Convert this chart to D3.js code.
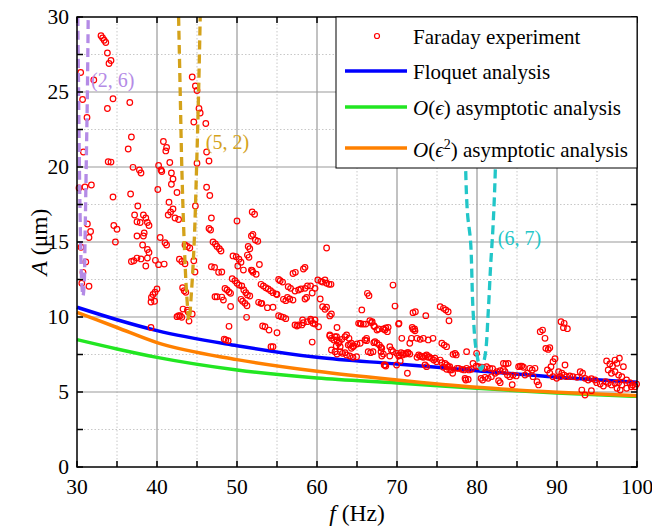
<!DOCTYPE html>
<html>
<head>
<meta charset="utf-8">
<script src="https://cdn.jsdelivr.net/npm/d3@7"></script>
<style>
  body { margin: 0; background: #fff; }
  svg { display: block; font-family: "Liberation Serif", "Times New Roman", serif; }
</style>
</head>
<body>
<svg id="chart" width="652" height="528"></svg>
<script>
// theory curves
var theoryF = [30, 35, 40, 50, 60, 70, 80, 90, 100];
var floquetA = [10.65, 9.82, 9.09, 8.09, 7.31, 6.87, 6.42, 5.98, 5.65];
var asym1A = [8.49, 7.87, 7.31, 6.47, 5.93, 5.6, 5.25, 4.93, 4.71];
var asym2A = [10.31, 9.3, 8.29, 7.16, 6.38, 5.8, 5.31, 4.98, 4.75];

// instability tongues (dashed)
var tongue26 = [[30.1,30],[30.2,25],[30.3,20],[30.45,15],[30.6,12.2],[30.75,11.4],[30.9,12.2],[31.0,15],[31.15,20],[31.3,25],[31.4,30]];
var tongue52 = [[42.7,30],[42.9,25],[43.1,20],[43.4,15],[43.7,11.6],[44.0,9.8],[44.3,11.6],[44.65,15],[44.95,20],[45.2,25],[45.4,30]];
var tongue67 = [[78.4,30],[78.5,22],[78.8,17],[79.2,15],[79.5,10.5],[79.9,7.8],[80.5,6.5],[81.0,7.4],[81.4,10.3],[81.7,13.4],[82.0,16],[82.3,20],[82.6,30]];
var tongueLabels = [["(2, 6)", 31.75, 25.33, "#b48be6"], ["(5, 2)", 46.1, 21.2, "#d4a21a"], ["(6, 7)", 82.6, 14.8, "#22c6c8"]];

// Faraday experiment points [f, A]
var faraday = [
[33.0,28.75],[33.2,28.6],[33.4,28.45],[33.6,28.3],[33.8,27.6],[34.0,26.9],[34.25,27.1],[30.46,26.3],[32.1,25.8],[30.7,24.5],[34.5,24.55],[33.8,23.9],[36.6,24.3],[31.25,23.3],[30.8,21.0],[36.4,21.2],[36.8,22.0],[33.9,20.35],[34.25,20.33],[37.0,19.98],[37.8,19.8],[38.0,19.6],[30.25,18.6],[31.0,18.67],[31.8,18.8],[34.5,18.0],[36.7,18.2],[40.2,20.1],[40.5,19.8],[40.6,19.7],[40.8,21.7],[41.2,21.3],[41.1,21.07],[41.6,20.3],[41.8,19.6],[42.0,19.2],[41.8,18.85],[42.5,18.3],[40.1,18.5],[41.5,17.65],[42.0,17.2],[41.7,17.0],[41.4,16.8],[42.25,16.6],[42.7,16.5],[37.6,17.4],[37.2,16.8],[38.3,16.8],[38.6,16.6],[37.5,16.35],[37.9,16.3],[38.8,16.3],[39.0,16.1],[34.6,16.1],[35.0,15.85],[31.3,16.2],[31.7,15.7],[31.5,15.3],[38.4,15.6],[38.3,15.4],[37.5,15.4],[34.8,15.0],[38.2,14.8],[38.8,14.5],[39.0,14.3],[40.4,15.3],[41.0,14.95],[41.2,14.8],[30.5,14.65],[44.8,17.4],[44.4,26.0],[44.8,25.4],[45.0,25.1],[45.25,23.9],[45.4,23.6],[44.6,23.0],[46.1,22.9],[46.2,21.0],[46.5,20.4],[45.0,20.25],[46.2,18.65],[46.6,18.1],[46.8,16.6],[46.5,15.9],[46.7,15.8],[47.0,15.0],[47.3,14.87],[47.5,14.7],[47.8,14.55],[48.0,14.4],[50.0,16.4],[51.9,17.0],[52.2,16.85],[51.8,15.4],[52.0,15.5],[52.3,15.13],[52.6,15.05],[51.4,14.7],[51.6,14.55],[49.5,14.07],[49.9,14.02],[61.2,14.6],[43.5,14.8],[43.8,14.7],[44.1,14.6],
[31.1,13.67],[30.75,12.98],[30.6,12.25],[31.5,12.05],[36.8,13.7],[37.1,13.75],[37.5,13.93],[38.0,13.87],[38.6,13.4],[38.8,13.93],[39.8,13.78],[40.2,13.49],[40.9,13.53],[42.8,13.85],[43.1,13.7],[43.5,13.55],[44.6,13.75],[44.75,13.0],[46.8,13.35],[47.2,13.31],[47.7,12.98],[48.1,13.0],[50.25,13.85],[50.5,13.65],[50.1,13.4],[51.3,14.13],[51.5,13.98],[50.8,13.13],[51.9,13.09],[49.4,12.55],[49.75,12.42],[50.0,12.25],[50.25,12.13],[40.0,11.87],[39.75,11.65],[39.5,11.5],[39.3,11.3],[39.25,11.0],[39.7,11.05],[43.2,11.95],[43.4,11.75],[43.6,11.65],[47.25,11.35],[47.5,11.35],[48.1,11.33],[48.3,11.13],[48.5,11.9],[48.75,11.8],[49.0,11.67],[49.2,11.58],[49.2,10.7],[50.6,12.07],[50.85,11.8],[51.1,11.62],[51.3,11.47],[50.5,11.18],[50.7,11.05],[51.0,10.91],[51.25,10.75],[51.6,11.4],[51.2,9.98],[49.0,9.38],[43.25,10.53],[42.5,10.02],[42.7,10.09],[42.9,10.09],[43.1,9.98],[43.8,10.45],[43.9,10.33],[44.4,10.2],[44.0,9.73],[39.25,9.3],[48.4,8.53],[48.6,8.47],[48.9,8.42],
[52.8,13.5],[51.8,13.13],[52.0,12.98],[52.4,12.85],[58.5,13.31],[58.3,13.2],[57.0,12.9],[57.3,12.98],[55.2,12.5],[55.4,12.42],[55.7,12.33],[60.1,12.47],[60.5,12.38],[60.7,12.33],[61.0,12.47],[61.2,12.25],[61.5,12.18],[53.0,12.18],[53.3,12.07],[53.6,11.95],[53.9,11.87],[54.2,11.75],[54.5,11.62],[54.9,11.53],[56.4,12.02],[56.7,11.91],[57.25,11.73],[57.7,11.8],[58.0,11.87],[58.5,11.91],[58.8,12.07],[59.2,12.07],[59.75,11.91],[52.7,10.98],[53.0,10.91],[53.1,10.91],[53.8,10.62],[54.5,10.65],[55.0,11.5],[55.8,11.18],[56.1,11.09],[56.3,11.31],[56.6,11.2],[57.0,11.13],[58.5,11.2],[58.7,11.3],[59.4,11.6],[60.4,11.2],[60.7,10.69],[61.0,10.51],[61.2,10.65],[55.2,10.09],[55.5,10.02],[55.8,9.98],[56.1,9.89],[58.2,9.8],[59.2,9.85],[59.75,9.8],[61.6,10.07],[61.8,10.2],[61.75,12.18],[62.5,9.3],
[57.25,9.47],[57.5,9.4],[57.7,9.47],[58.1,9.47],[58.3,9.62],[58.8,9.69],[59.25,9.75],[59.5,9.58],[59.75,9.53],[60.2,9.35],[53.2,9.4],[53.5,9.35],[54.0,9.13],[55.0,8.95],[54.25,8.02],[54.5,8.02],[59.4,8.33],[61.6,8.8],[62.25,8.69],[62.5,8.47],[62.7,8.25],[62.4,8.07],[62.9,8.02],[61.8,7.8],[62.25,7.69],[62.5,7.53],[62.9,7.69],[63.2,7.58],[63.5,7.62],[63.7,7.47],[64.1,7.4],[64.5,7.31],[64.95,7.35],[63.7,8.8],[64.0,8.58],[64.3,8.25],[64.5,8.02],[65.2,9.58],[65.4,9.58],[65.6,10.47],[66.3,11.58],[66.5,11.42],[66.1,9.53],[66.8,9.62],[67.1,9.42],[67.5,9.13],[66.2,8.58],[66.0,8.47],[66.4,7.69],[66.7,7.62],[67.0,7.69],[67.25,8.35],[67.5,8.25],[67.8,8.13],[68.0,7.98],[68.0,7.69],[68.3,7.53],[68.5,9.13],[68.8,9.02],[69.5,12.13],[69.75,10.73],[70.2,9.53],[70.6,8.58],[69.1,8.02],[69.3,7.8],[69.5,7.69],[69.95,7.58],[70.3,7.47],[70.8,7.58],[71.1,7.53],[71.4,7.62],[71.6,8.25],[71.8,8.58],[72.0,9.18],[72.25,9.08],[72.5,8.58],[72.9,8.51],[73.3,8.58],[73.9,8.47],[74.5,8.58],[72.0,10.29],[72.3,10.35],[73.6,10.09],[72.7,7.47],[73.1,7.35],[73.5,7.4],[73.9,7.31],[74.3,7.25],[74.6,7.13],[74.95,7.02],[75.4,10.69],[75.8,10.58],[76.1,10.47],[76.4,10.35],[75.6,8.25],[75.9,8.13],[76.2,8.02],[69.95,6.8],[68.5,6.8],
[76.5,9.75],[65.5,9.53],[65.8,9.53],[66.6,9.75],[66.9,9.69],[67.2,9.35],[67.7,9.2],[68.3,9.2],[68.6,9.27],[68.9,9.31],[70.25,9.58],[71.9,9.31],[72.2,9.2],[61.6,8.73],[61.8,8.58],[62.1,8.47],[62.45,8.69],[62.8,8.35],[63.1,8.51],[63.5,8.69],[63.9,8.13],[64.1,8.18],[64.3,7.91],[64.6,8.07],[65.0,8.2],[65.4,8.25],[66.2,8.42],[67.1,8.29],[68.1,7.91],[68.1,7.4],[69.1,7.4],[70.2,7.4],[70.5,7.62],[70.7,7.47],[71.3,7.62],[71.6,7.53],[70.4,7.07],[68.4,6.8],[68.6,6.73],[72.5,7.31],[72.9,7.4],[73.3,7.31],[73.7,7.47],[74.0,7.35],[74.75,7.25],[71.3,6.25],[73.5,6.8],[73.7,6.69],[76.0,6.91],[76.2,6.8],[76.6,6.69],[77.25,7.58],[77.4,7.47],[78.7,7.69],[76.8,6.47],[77.5,6.58],[78.5,5.91],
[77.0,7.51],[79.95,7.58],[79.5,6.91],[79.9,6.73],[80.2,6.69],[80.6,6.65],[80.9,6.58],[81.2,6.69],[81.6,6.58],[81.95,6.56],[75.4,7.13],[75.6,6.95],[75.8,6.65],[76.2,6.51],[76.4,6.69],[76.6,6.47],[76.96,6.25],[77.7,6.58],[78.1,6.51],[78.4,6.47],[78.7,6.58],[79.0,6.47],[79.3,6.51],[78.6,5.8],[78.9,5.84],[80.5,5.91],[80.7,5.8],[81.0,5.98],[81.4,5.91],[81.8,6.02],[82.25,6.25],[82.5,6.35],[82.9,6.42],[83.3,6.51],[83.5,6.35],[82.7,5.75],[82.9,5.62],[83.8,6.13],[84.1,6.02],[84.5,6.13],[84.9,6.07],[85.2,6.69],[85.4,6.73],[85.6,6.73],[85.8,6.65],[84.4,5.49],[86.0,6.13],[86.3,6.25],[86.6,6.58],[86.9,6.47],[87.25,6.58],[87.0,6.02],[87.5,5.69],[87.7,5.47],[87.9,9.02],[88.2,9.13],[88.5,8.58],[88.6,7.91],[88.9,7.84],[89.1,7.95],[89.75,7.22],[89.5,7.02],[89.25,6.69],[88.8,6.47],[89.1,6.25],[89.5,6.02],[89.96,5.91],[90.4,6.02],[90.5,9.69],[90.9,9.58],[90.8,9.29],[91.3,9.22],[91.0,6.8],[90.2,6.35],[90.6,6.25],[90.9,6.13],[91.2,6.02],[91.6,6.07],[92.0,6.02],[92.5,5.98],[92.9,6.35],[93.2,6.25],[93.5,5.91],[93.9,5.8],[94.3,5.89],[94.75,5.8],[93.1,5.13],[93.5,4.8],[94.96,5.62],[95.4,5.53],[95.8,5.4],[96.1,5.69],[96.4,5.58],[96.8,5.47],[97.25,5.58],[97.7,5.62],[98.1,5.47],[96.2,7.07],[96.6,6.87],[96.95,6.73],[97.25,7.13],[97.5,6.91],[97.8,7.25],[98.3,6.69],[96.4,6.47],[96.8,6.25],[97.25,6.35],[97.7,6.13],[98.1,6.02],[98.7,5.8],[99.1,5.62],[99.45,5.47],[99.75,5.35],[99.95,5.53],[98.7,5.25],[99.3,5.35],[97.5,5.25],[97.9,5.13],[94.3,5.09],[83.3,6.91],[83.6,6.87],[83.9,6.91]
];

var xTicks = [30, 40, 50, 60, 70, 80, 90, 100];
var yTicks = [0, 5, 10, 15, 20, 25, 30];

var svg = d3.select("#chart");
var pLeft = 77, pRight = 637, pTop = 17, pBottom = 467;

var x = d3.scaleLinear().domain([30, 100]).range([pLeft, pRight]);
var y = d3.scaleLinear().domain([0, 30]).range([pBottom, pTop]);

// grid: minor dotted, major solid
var minorX = d3.range(35, 100, 10), minorY = d3.range(2.5, 30, 5);
var grid = svg.append("g");
grid.selectAll(".gmx").data(minorX).enter().append("line")
    .attr("x1", d => x(d)).attr("x2", d => x(d)).attr("y1", pTop).attr("y2", pBottom)
    .attr("stroke", "#c8c8c8").attr("stroke-dasharray", "1.5,2").attr("stroke-width", 1);
grid.selectAll(".gmy").data(minorY).enter().append("line")
    .attr("x1", pLeft).attr("x2", pRight).attr("y1", d => y(d)).attr("y2", d => y(d))
    .attr("stroke", "#c8c8c8").attr("stroke-dasharray", "1.5,2").attr("stroke-width", 1);
grid.selectAll(".gx").data(xTicks.slice(1, -1)).enter().append("line")
    .attr("x1", d => x(d)).attr("x2", d => x(d)).attr("y1", pTop).attr("y2", pBottom)
    .attr("stroke", "#999").attr("stroke-width", 1.2);
grid.selectAll(".gy").data(yTicks.slice(1, -1)).enter().append("line")
    .attr("x1", pLeft).attr("x2", pRight).attr("y1", d => y(d)).attr("y2", d => y(d))
    .attr("stroke", "#999").attr("stroke-width", 1.2);

var plot = svg.append("g");

// theory lines
var line = d3.line().x(d => x(d[0])).y(d => y(d[1])).curve(d3.curveMonotoneX);
function series(vals) { return theoryF.map((f, i) => [f, vals[i]]); }
[[asym1A, "#22e622"], [asym2A, "#ff8000"], [floquetA, "#0000ff"]].forEach(function (s) {
    plot.append("path").datum(series(s[0]))
        .attr("d", line).attr("fill", "none").attr("stroke", s[1]).attr("stroke-width", 3.5);
});

// experiment
plot.selectAll("circle.exp").data(faraday).enter().append("circle")
    .attr("class", "exp")
    .attr("cx", d => x(d[0])).attr("cy", d => y(d[1])).attr("r", 2.8)
    .attr("fill", "none").attr("stroke", "#ff0000").attr("stroke-width", 1.2);

// tongues
var tline = d3.line().x(d => x(d[0])).y(d => y(d[1])).curve(d3.curveCatmullRom);
[[tongue26, "#b48be6"], [tongue52, "#d4a21a"], [tongue67, "#22c6c8"]].forEach(function (t) {
    plot.append("path").datum(t[0])
        .attr("d", tline).attr("fill", "none").attr("stroke", t[1])
        .attr("stroke-width", 3.3).attr("stroke-dasharray", "9,5");
});
plot.selectAll("text.tl").data(tongueLabels).enter().append("text")
    .attr("x", d => x(d[1])).attr("y", d => y(d[2]))
    .attr("fill", d => d[3]).attr("font-size", 20).text(d => d[0]);

// frame and ticks (inward, all sides)
var frame = svg.append("g").attr("stroke", "#000");
frame.append("rect").attr("x", pLeft).attr("y", pTop).attr("width", pRight - pLeft).attr("height", pBottom - pTop)
    .attr("fill", "none").attr("stroke-width", 1.5);
var allX = d3.range(30, 101, 5), allY = d3.range(0, 30.1, 2.5);
allX.forEach(function (v) {
    frame.append("line").attr("x1", x(v)).attr("x2", x(v)).attr("y1", pBottom).attr("y2", pBottom - 6).attr("stroke-width", 1.5);
    frame.append("line").attr("x1", x(v)).attr("x2", x(v)).attr("y1", pTop).attr("y2", pTop + 6).attr("stroke-width", 1.5);
});
allY.forEach(function (v) {
    frame.append("line").attr("x1", pLeft).attr("x2", pLeft + 6).attr("y1", y(v)).attr("y2", y(v)).attr("stroke-width", 1.5);
    frame.append("line").attr("x1", pRight).attr("x2", pRight - 6).attr("y1", y(v)).attr("y2", y(v)).attr("stroke-width", 1.5);
});

// tick labels
svg.selectAll("text.xt").data(xTicks).enter().append("text")
    .attr("x", d => x(d)).attr("y", pBottom + 27).attr("text-anchor", "middle")
    .attr("font-size", 21.5).text(d => d);
svg.selectAll("text.yt").data(yTicks).enter().append("text")
    .attr("x", pLeft - 8).attr("y", d => y(d) + 7).attr("text-anchor", "end")
    .attr("font-size", 21.5).text(d => d);

// axis titles
var xt = svg.append("text").attr("x", (pLeft + pRight) / 2).attr("y", 521)
    .attr("text-anchor", "middle").attr("font-size", 23.5);
xt.append("tspan").attr("font-style", "italic").text("f");
xt.append("tspan").text(" (Hz)");
var yt = svg.append("text").attr("transform", "translate(47," + ((pTop + pBottom) / 2) + ") rotate(-90)")
    .attr("text-anchor", "middle").attr("font-size", 23.5);
yt.append("tspan").attr("font-style", "italic").text("A");
yt.append("tspan").text(" (\u03bcm)");

// legend
var lg = svg.append("g");
lg.append("rect").attr("x", 336).attr("y", pTop).attr("width", pRight - 336).attr("height", 151)
    .attr("fill", "#fff").attr("stroke", "#000").attr("stroke-width", 1);
lg.append("circle").attr("cx", 377).attr("cy", 36).attr("r", 2.5)
    .attr("fill", "none").attr("stroke", "#ff0000").attr("stroke-width", 1.2);
var legendRows = [
    { y: 71, color: "#0000ff" },
    { y: 107, color: "#22e622" },
    { y: 148, color: "#ff8000" }
];
legendRows.forEach(function (r) {
    lg.append("line").attr("x1", 345).attr("x2", 407).attr("y1", r.y).attr("y2", r.y)
        .attr("stroke", r.color).attr("stroke-width", 3.5);
});
lg.append("text").attr("x", 413).attr("y", 44).attr("font-size", 21).text("Faraday experiment");
lg.append("text").attr("x", 413).attr("y", 79).attr("font-size", 21).text("Floquet analysis");
var t3 = lg.append("text").attr("x", 413).attr("y", 115).attr("font-size", 21);
t3.append("tspan").attr("font-style", "italic").text("O");
t3.append("tspan").text("(");
t3.append("tspan").attr("font-style", "italic").text("\u03f5");
t3.append("tspan").text(") asymptotic analysis");
var t4 = lg.append("text").attr("x", 413).attr("y", 157).attr("font-size", 21);
t4.append("tspan").attr("font-style", "italic").text("O");
t4.append("tspan").text("(");
t4.append("tspan").attr("font-style", "italic").text("\u03f5");
t4.append("tspan").attr("font-size", 14).attr("dy", -8).text("2");
t4.append("tspan").attr("dy", 8).text(") asymptotic analysis");
</script>
</body>
</html>
